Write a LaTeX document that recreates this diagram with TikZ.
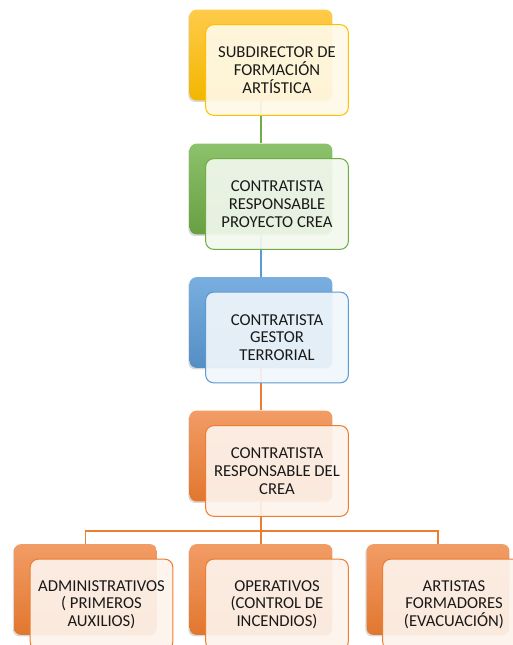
\documentclass[tikz,border=0pt]{standalone}
\usepackage{fontspec}
\setmainfont{Carlito}
\usetikzlibrary{positioning,shadows}
\definecolor{orgyellow}{HTML}{FFC000}
\definecolor{orgyellowtop}{HTML}{FFCB4A}
\definecolor{orggreen}{HTML}{70AD47}
\definecolor{orggreentop}{HTML}{8CC26B}
\definecolor{orgblue}{HTML}{5B9BD5}
\definecolor{orgbluetop}{HTML}{79AEE0}
\definecolor{orgorange}{HTML}{ED7D31}
\definecolor{orgorangetop}{HTML}{F29C66}

\begin{document}
\begin{tikzpicture}[
    x=0.75pt, y=-0.75pt,
    back/.style={rectangle, rounded corners=5pt, minimum width=107pt, minimum height=68pt, draw=none,
        drop shadow={shadow xshift=-1pt, shadow yshift=-1.2pt, opacity=0.3}},
    front/.style={draw=#1, fill=#1!9, fill opacity=0.92, text opacity=1, line width=0.75pt,
        rectangle, rounded corners=6pt, minimum width=107pt, minimum height=68pt,
        font=\fontsize{12.5}{13.3}\selectfont, text=black!90, align=center},
    link/.style={line width=1pt}
]
\useasboundingbox (0,0) rectangle (513,645);
\clip (0,0) rectangle (513,645);

% back boxes
\node[back, top color=orgyellowtop, bottom color=orgyellow!95!black] (l1) at (261,55) {};
\node[back, top color=orggreentop, bottom color=orggreen!92!black] (l2) at (261,189) {};
\node[back, top color=orgbluetop, bottom color=orgblue!92!black] (l3) at (261,322.5) {};
\node[back, top color=orgorangetop, bottom color=orgorange!95!black] (l4) at (261,456) {};
\node[back, top color=orgorangetop, bottom color=orgorange!95!black] (b1) at (85.5,589.5) {};
\node[back, top color=orgorangetop, bottom color=orgorange!95!black] (b2) at (261,589.5) {};
\node[back, top color=orgorangetop, bottom color=orgorange!95!black] (b3) at (438,589.5) {};

% connectors
\coordinate (bus) at (261,531);
\draw[link, orggreen] (l1.south) -- (l2.north);
\draw[link, orgblue] (l2.south) -- (l3.north);
\draw[link, orgorange] (l3.south) -- (l4.north);
\draw[link, orgorange] (l4.south) -- (b2.north);
\draw[link, orgorange] (b1.north) |- (bus) -| (b3.north);

% front boxes
\node[front=orgyellow] (l1t) at ([shift={(16,15)}]l1.center) {SUBDIRECTOR DE\\FORMACIÓN\\ARTÍSTICA};
\node[front=orggreen] (l2t) at ([shift={(16,15)}]l2.center) {CONTRATISTA\\RESPONSABLE\\PROYECTO CREA};
\node[front=orgblue] (l3t) at ([shift={(16,15)}]l3.center) {CONTRATISTA\\GESTOR\\TERRORIAL};
\node[front=orgorange] (l4t) at ([shift={(16,15)}]l4.center) {CONTRATISTA\\RESPONSABLE DEL\\CREA};
\node[front=orgorange] (b1t) at ([shift={(16,15)}]b1.center) {ADMINISTRATIVOS\\( PRIMEROS\\AUXILIOS)};
\node[front=orgorange] (b2t) at ([shift={(16,15)}]b2.center) {OPERATIVOS\\(CONTROL DE\\INCENDIOS)};
\node[front=orgorange] (b3t) at ([shift={(16,15)}]b3.center) {ARTISTAS\\FORMADORES\\(EVACUACIÓN)};
\end{tikzpicture}
\end{document}
